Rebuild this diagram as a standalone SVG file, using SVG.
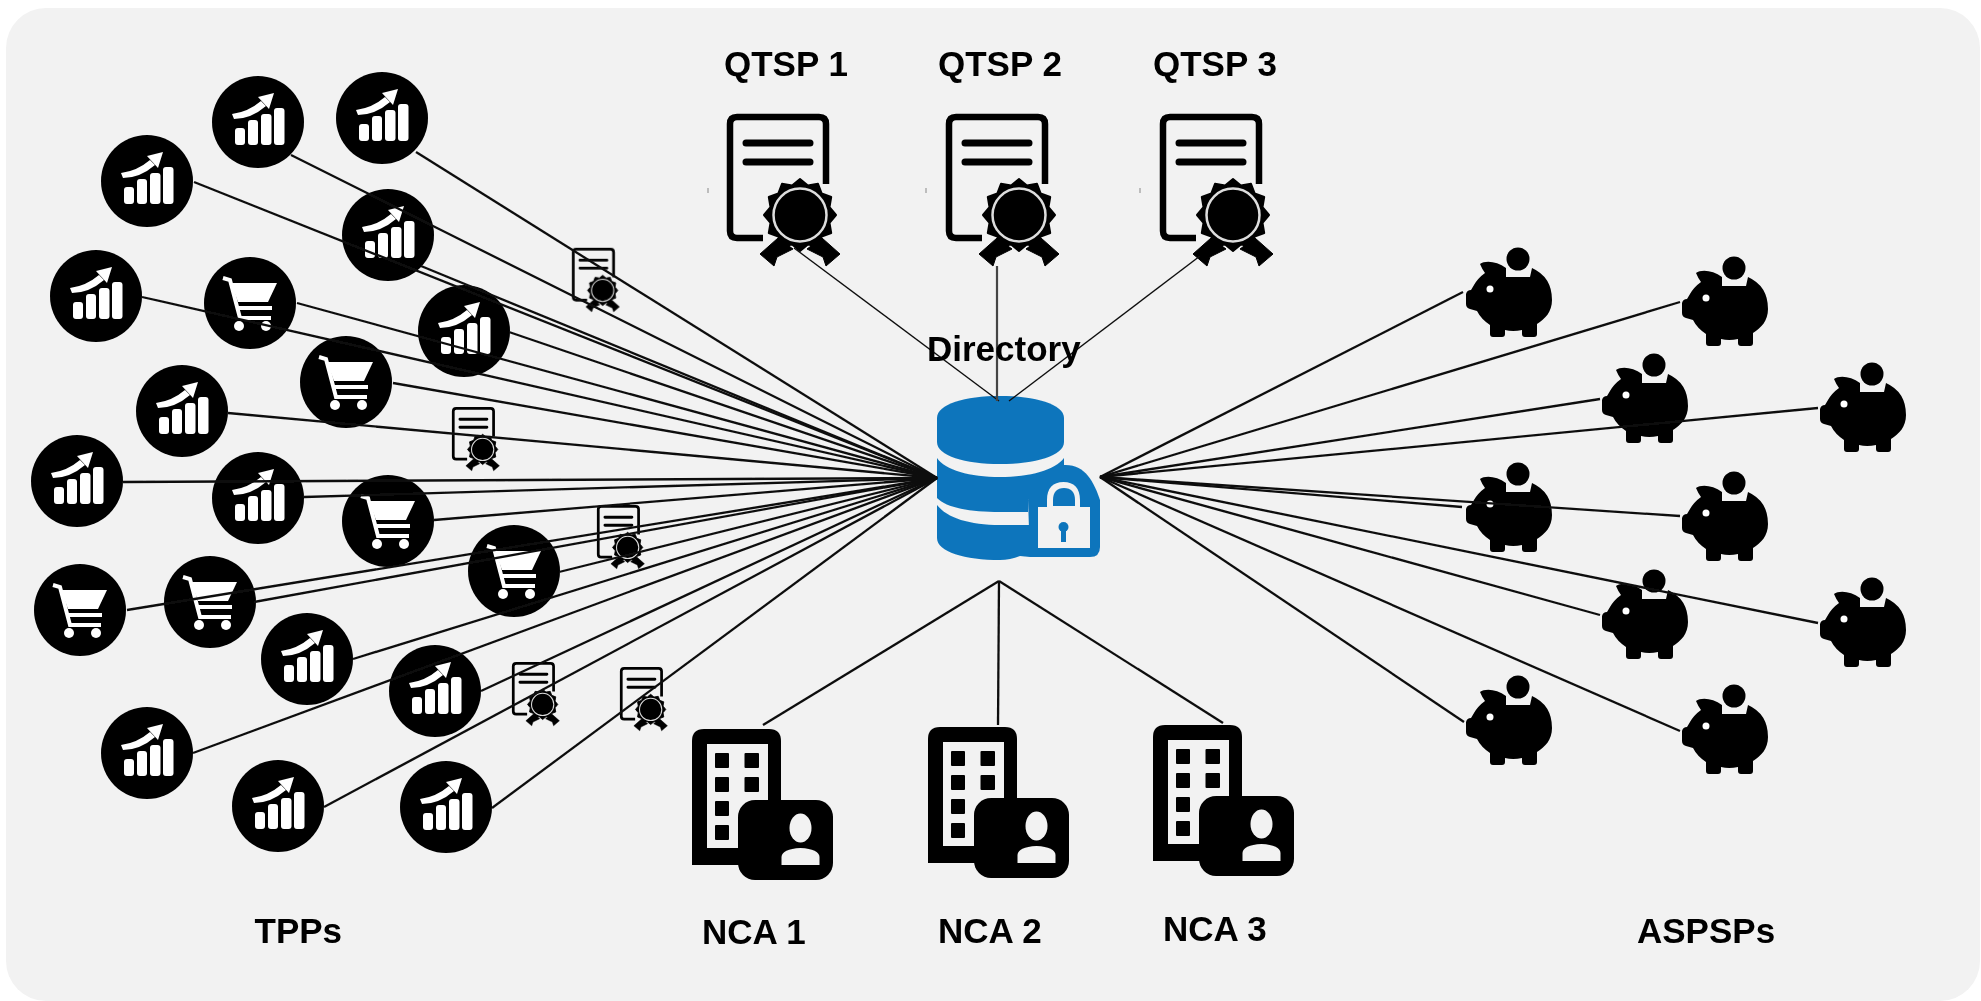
<svg xmlns="http://www.w3.org/2000/svg" width="1981" height="1001" viewBox="0 0 1981 1001">
<style>
.lbl{font-family:"Liberation Sans",Arial,sans-serif;font-weight:700;font-size:35px;fill:#000}
.c path{fill:none;stroke:#111;stroke-width:2.300}
.c .thin{stroke-width:1.400}
.c .grey{stroke:#444;stroke-width:2.200}
.w{fill:#f2f2f2}
.db{fill:#0f75bc}
</style>
<defs>
<filter id="soft" x="0" y="0" width="100%" height="100%" filterUnits="userSpaceOnUse"><feGaussianBlur stdDeviation="0.6"/></filter>
<g id="chart">
<circle r="46" fill="#000"/>
<g fill="#fff">
<rect x="-23" y="6" width="10" height="17" rx="3"/>
<rect x="-10" y="-2" width="10" height="25" rx="3"/>
<rect x="3" y="-8" width="10.500" height="31" rx="3"/>
<rect x="16" y="-14" width="10.500" height="37" rx="3"/>
<path d="M-26 -8Q-10 -10 3 -21L8 -16Q-7 -3 -24 -3Z"/>
<path d="M16 -29L0 -25L11 -13Z"/>
</g>
</g>
<g id="cart">
<circle r="46" fill="#000"/>
<path d="M-19 -20H27L18 -1H-12Z" fill="#fff"/>
<path d="M-27 -25L-20 -23L-10 15H21M-12 5H22" fill="none" stroke="#fff" stroke-width="4"/>
<circle cx="-11" cy="23" r="5" fill="#fff"/>
<circle cx="16" cy="23" r="5" fill="#fff"/>
</g>
<g id="cert">
<path d="M36 124H10Q3 124 3 117V10Q3 3 10 3H92Q99 3 99 10V70" fill="none" stroke="#000" stroke-width="6.500"/>
<path d="M19 29H83M19 48H83" fill="none" stroke="#000" stroke-width="7" stroke-linecap="round"/>
<path d="M33 140L47 152L50 143L66 135L51 124Z" fill="#000" stroke="#000" stroke-linejoin="round"/>
<path d="M113 140L99 152L96 143L80 135L95 124Z" fill="#000" stroke="#000" stroke-linejoin="round"/>
<g transform="translate(73 101)">
<polygon points="36,0 29.500,7.900 31.200,18 21.600,21.600 18,31.200 7.900,29.500 0,36 -7.900,29.500 -18,31.200 -21.600,21.600 -31.200,18 -29.500,7.900 -36,0 -29.500,-7.900 -31.200,-18 -21.600,-21.600 -18,-31.200 -7.900,-29.500 0,-36 7.900,-29.500 18,-31.200 21.600,-21.600 31.200,-18 29.500,-7.900" fill="#000" stroke="#000" stroke-width="2" stroke-linejoin="round"/>
<circle r="26.500" fill="#000" stroke="#ddd" stroke-width="2.500"/>
</g>
</g>
<g id="nca">
<path d="M0 12Q0 0 12 0H77Q89 0 89 12V136H0Z" fill="#000"/>
<rect x="15" y="15" width="61" height="104" class="w"/>
<g fill="#000">
<rect x="23" y="24" width="14" height="15" rx="1"/><rect x="52.500" y="24" width="14.500" height="15" rx="1"/>
<rect x="23" y="48" width="14" height="15" rx="1"/><rect x="52.500" y="48" width="14.500" height="15" rx="1"/>
<rect x="23" y="72" width="14" height="15" rx="1"/>
<rect x="23" y="96" width="14" height="15" rx="1"/>
</g>
<rect x="46" y="71" width="95" height="80" rx="17" fill="#000"/>
<ellipse cx="108.500" cy="99" rx="11" ry="14.500" class="w"/>
<path d="M89.500 136V128Q90 120 108.500 119Q127 120 127.500 128V136Z" class="w"/>
</g>
<g id="pig">
<path d="M13 17C18 13 30 14 39 21V30H63L65 21Q85 30 85 53C85 65 78 72 70 77V87Q70 90 67 90H58Q55 90 55 87V83Q46 85 38 83V87Q38 90 35 90H26Q23 90 23 87V78Q14 72 10 64L3 62Q-1 61 -1 57V47Q0 43 4 43L7 38Q11 31 18 26Q15 22 13 17Z" fill="#000"/>
<circle cx="51" cy="12" r="11.500" fill="#000"/>
<circle cx="23" cy="42" r="3.500" fill="#fff"/>
</g>
</defs>
<rect width="1981" height="1001" fill="#fff"/>
<rect x="6" y="8" width="1974" height="993" rx="40" fill="#f2f2f2"/>
<g filter="url(#soft)">
<g id="qtsp-1"><use href="#cert" x="727" y="114"/><rect x="707.500" y="188" width="1" height="5" fill="#888"/></g>
<g id="qtsp-2"><use href="#cert" x="946" y="114"/><rect x="925.500" y="188" width="1" height="5" fill="#888"/></g>
<g id="qtsp-3"><use href="#cert" x="1160" y="114"/><rect x="1139.500" y="188" width="1" height="5" fill="#888"/></g>

<g id="cert-small-1"><use href="#cert" transform="translate(572 248) scale(.42)"/></g>
<g id="cert-small-2"><use href="#cert" transform="translate(452 407) scale(.42)"/></g>
<g id="cert-small-3"><use href="#cert" transform="translate(597 505) scale(.42)"/></g>
<g id="cert-small-4"><use href="#cert" transform="translate(512 662) scale(.42)"/></g>
<g id="cert-small-5"><use href="#cert" transform="translate(620 667) scale(.42)"/></g>

<g id="directory">
<path class="db" d="M937 418C937 404 965 396 1000 396C1035 396 1064 404 1064 418V442C1064 456 1035 464 1000 464C965 464 937 456 937 442Z"/>
<path class="db" d="M937 458C945 470 970 477 1000 477C1030 477 1055 470 1064 458V480L1028 500V512H1000C970 512 947 508 937 498Z"/>
<path class="db" d="M937 505C947 518 970 525 1000 525H1030V557L1020 556Q1010 560 1000 560C965 560 937 552 937 538Z"/>
<path class="db" d="M1064 465C1085 464 1094 482 1100 500V547Q1100 557 1090 557H1030L1028 500L1040 478Z"/>
<path class="w" d="M1038 507H1047V500C1047 488 1053 482 1063.500 482C1074 482 1080 488 1080 500V507H1090V548H1038Z"/>
<path class="db" d="M1053 506V500C1053 492 1057 488 1064 488C1071 488 1075 492 1075 500V506Z"/>
<circle cx="1063.500" cy="527" r="5" class="db"/>
<rect x="1061" y="527" width="5" height="15" class="db"/>
</g>

<g id="nca-1"><use href="#nca" x="692" y="729"/></g>
<g id="nca-2"><use href="#nca" x="928" y="727"/></g>
<g id="nca-3"><use href="#nca" x="1153" y="725"/></g>

<g id="tpp-1"><use href="#chart" x="382" y="118"/></g>
<g id="tpp-2"><use href="#chart" x="258" y="122"/></g>
<g id="tpp-3"><use href="#chart" x="147" y="181"/></g>
<g id="tpp-4"><use href="#chart" x="388" y="235"/></g>
<g id="tpp-5"><use href="#chart" x="96" y="296"/></g>
<g id="tpp-6"><use href="#chart" x="464" y="331"/></g>
<g id="tpp-7"><use href="#cart" x="250" y="303"/></g>
<g id="tpp-8"><use href="#cart" x="346" y="382"/></g>
<g id="tpp-9"><use href="#chart" x="182" y="411"/></g>
<g id="tpp-10"><use href="#chart" x="77" y="481"/></g>
<g id="tpp-11"><use href="#chart" x="258" y="498"/></g>
<g id="tpp-12"><use href="#cart" x="388" y="521"/></g>
<g id="tpp-13"><use href="#cart" x="514" y="571"/></g>
<g id="tpp-14"><use href="#cart" x="80" y="610"/></g>
<g id="tpp-15"><use href="#cart" x="210" y="602"/></g>
<g id="tpp-16"><use href="#chart" x="307" y="659"/></g>
<g id="tpp-17"><use href="#chart" x="435" y="691"/></g>
<g id="tpp-18"><use href="#chart" x="147" y="753"/></g>
<g id="tpp-19"><use href="#chart" x="278" y="806"/></g>
<g id="tpp-20"><use href="#chart" x="446" y="807"/></g>

<g id="aspsp-1"><use href="#pig" x="1467" y="247"/></g>
<g id="aspsp-2"><use href="#pig" x="1683" y="256"/></g>
<g id="aspsp-3"><use href="#pig" x="1603" y="353"/></g>
<g id="aspsp-4"><use href="#pig" x="1821" y="362"/></g>
<g id="aspsp-5"><use href="#pig" x="1467" y="462"/></g>
<g id="aspsp-6"><use href="#pig" x="1683" y="471"/></g>
<g id="aspsp-7"><use href="#pig" x="1603" y="569"/></g>
<g id="aspsp-8"><use href="#pig" x="1821" y="577"/></g>
<g id="aspsp-9"><use href="#pig" x="1467" y="675"/></g>
<g id="aspsp-10"><use href="#pig" x="1683" y="684"/></g>

<g id="connectors" class="c">
<path d="M416 152L937 478"/><path d="M291 155L937 478"/><path d="M194 182L937 478"/><path d="M421 266L937 478"/>
<path d="M142 297L937 478"/><path d="M509 332L937 478"/><path d="M297 303L937 478"/><path d="M393 383L937 478"/>
<path d="M228 413L937 478"/><path d="M123 482L937 478"/><path d="M304 497L937 478"/><path d="M434 520L937 478"/>
<path d="M559 572L937 478"/><path d="M127 610L937 478"/><path d="M254 602L937 478"/><path d="M353 659L937 478"/>
<path d="M481 691L937 478"/><path d="M193 753L937 478"/><path d="M324 807L937 478"/><path d="M492 808L937 478"/>
<path d="M1100 477L1463 292"/><path d="M1100 477L1680 302"/><path d="M1100 477L1600 399"/><path d="M1100 477L1818 408"/>
<path d="M1100 477L1462 507"/><path d="M1100 477L1680 516"/><path d="M1100 477L1600 615"/><path d="M1100 477L1818 623"/>
<path d="M1100 477L1464 722"/><path d="M1100 477L1680 731"/>
<path class="thin" d="M794 248L999 401"/><path class="grey" d="M997 266V401"/><path class="thin" d="M1200 256L1009 401"/>
<path d="M999 581L763 725"/><path d="M999 581L998 725"/><path d="M999 581L1223 723"/>
</g>

<g id="labels">
<text class="lbl" x="724" y="76">QTSP 1</text>
<text class="lbl" x="938" y="76">QTSP 2</text>
<text class="lbl" x="1153" y="76">QTSP 3</text>
<text class="lbl" x="927" y="361">Directory</text>
<text class="lbl" x="254.500" y="943">TPPs</text>
<text class="lbl" x="702" y="944">NCA 1</text>
<text class="lbl" x="938" y="943">NCA 2</text>
<text class="lbl" x="1163" y="941">NCA 3</text>
<text class="lbl" x="1637" y="943">ASPSPs</text>
</g>
</g>
</svg>
